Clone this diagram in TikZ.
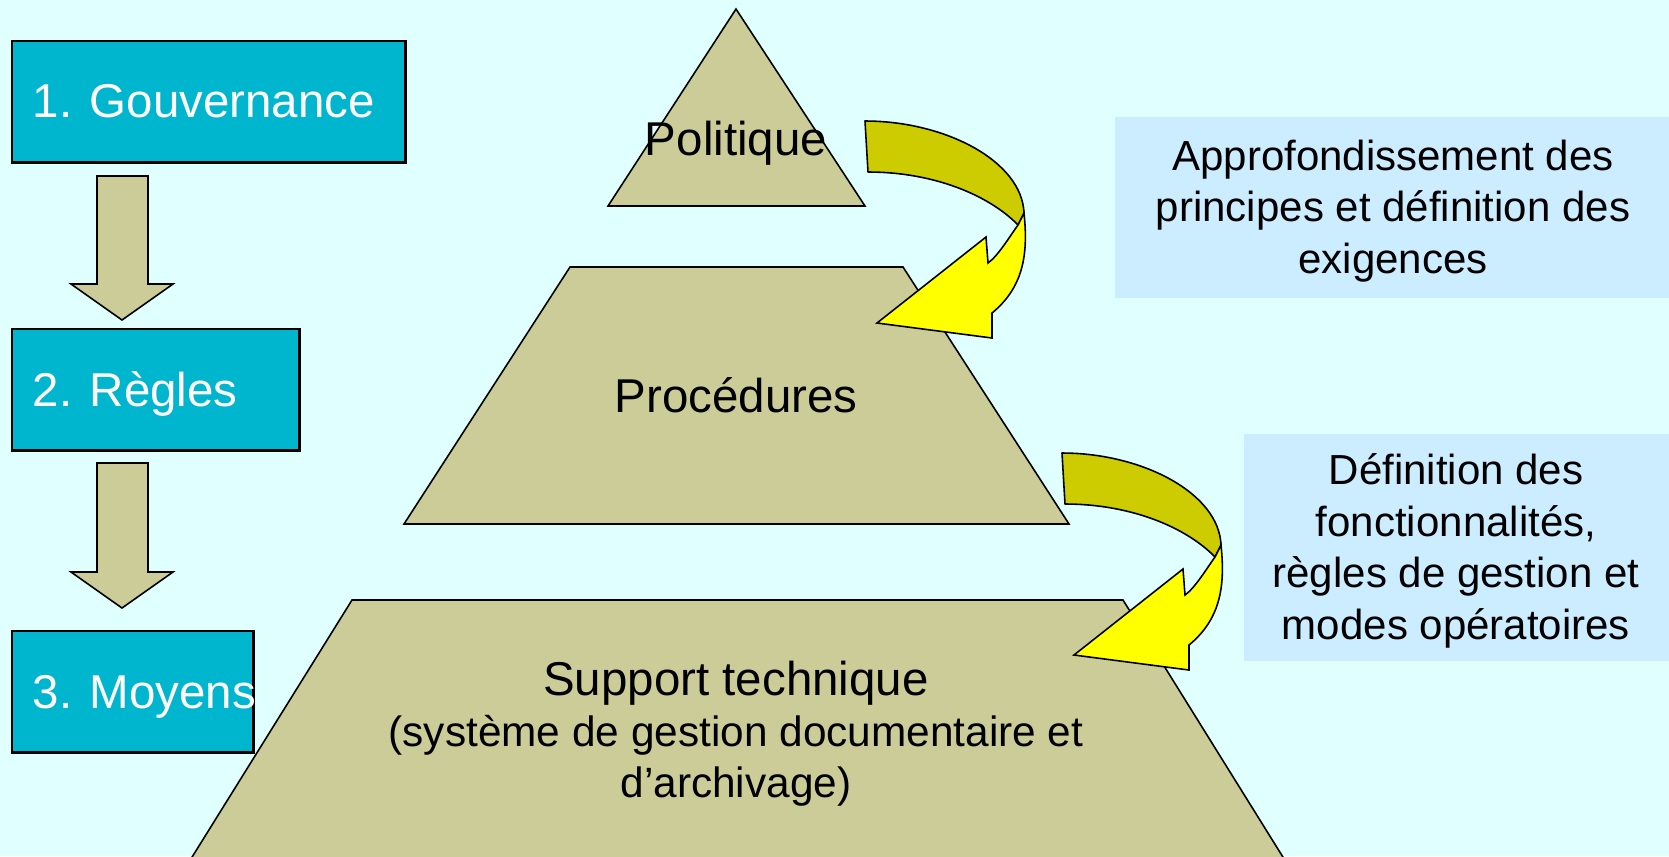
\documentclass[tikz,border=0pt]{standalone}
\usepackage{fontspec}
\setmainfont{Liberation Sans}
\definecolor{bgc}{RGB}{224,255,255}
\definecolor{boxc}{RGB}{0,181,206}
\definecolor{pyrc}{RGB}{204,204,153}
\definecolor{tailc}{RGB}{204,204,0}
\definecolor{headc}{RGB}{255,255,0}
\definecolor{notec}{RGB}{204,236,255}
\newcommand\supsmall{\fontsize{12.05}{14.5}\selectfont}
\tikzset{
  lbox/.style={draw=black, line width=0.7pt, fill=boxc, inner sep=0pt, anchor=north west},
  ltext/.style={text=white, anchor=base west, inner sep=0pt, font=\fontsize{13.5}{15}\selectfont},
  layer/.style={draw=black, line width=0.45pt, fill=pyrc, line join=miter},
  dnarrow/.style={draw=black, line width=0.45pt, fill=pyrc},
  ptext/.style={anchor=base, inner sep=0pt, align=center, font=\fontsize{13.5}{14.5}\selectfont},
  notebox/.style={fill=notec, draw=none, inner sep=0pt, anchor=north west},
  ntext/.style={anchor=base, inner sep=0pt, align=center, font=\fontsize{11.95}{14.6}\selectfont},
  tailpart/.style={draw=black, line width=0.45pt, fill=tailc, line join=round},
  headpart/.style={draw=black, line width=0.45pt, fill=headc, line join=miter},
  curvarrow/.pic={
    \path[tailpart] (0,0) .. controls (80,0) and (157,40) .. (159,92) -- (153,104)
      .. controls (125,75) and (70,51) .. (3,51) -- cycle;
    \path[headpart] (159,92) .. controls (163,130) and (160,165) .. (127,192)
      -- (127,217) -- (12,202) -- (121,116) -- (123,142)
      .. controls (133,135) and (145,115) .. (153,104) -- cycle;
  }
}
\begin{document}
\begin{tikzpicture}[x=0.01cm, y=-0.01cm]
\useasboundingbox (0,0) rectangle (1669,856);
\clip (0,0) rectangle (1669,856);
\fill[bgc] (0,0) rectangle (1669,856);

% left column
\node[lbox, minimum width=3.93cm, minimum height=1.21cm] (b1) at (11,40) {};
\node[lbox, minimum width=2.87cm, minimum height=1.21cm] (b2) at (11,328) {};
\node[lbox, minimum width=2.41cm, minimum height=1.21cm] (b3) at (11,630) {};
\node[ltext] (t1) at (32,117) {1. Gouvernance};
\node[ltext] (t2) at (32,406) {2. Règles};
\node[ltext] (t3) at (32,708) {3. Moyens};

\path[dnarrow] (97,176) -- (148,176) -- (148,284) -- (173,284) -- (122,320)
  -- (71,284) -- (97,284) -- cycle;
\path[dnarrow] (97,463) -- (148,463) -- (148,572) -- (173,572) -- (122,608)
  -- (71,572) -- (97,572) -- cycle;

% pyramid
\path[layer] (736,9) -- (865,206) -- (608,206) -- cycle;
\path[layer] (570,267) -- (903,267) -- (1069,524) -- (404,524) -- cycle;
\path[layer] (352,600) -- (1123,600) -- (1291,870) -- (184,870) -- cycle;

\node[ptext] (pol) at (736,155) {Politique};
\node[ptext] (proc) at (736,412) {Procédures};
\node[ptext] (supp) at (736,797) {Support technique\\{\supsmall (système de gestion documentaire et}\\{\supsmall d’archivage)}};

% notes
\node[notebox, minimum width=5.7cm, minimum height=1.81cm] (na) at (1114,116) {};
\node[notebox, minimum width=4.4cm, minimum height=2.27cm] (nb) at (1243,433) {};
\node[ntext] (nta) at (1393,273) {Approfondissement des\\principes et définition des\\exigences};
\node[ntext] (ntb) at (1456,639) {Définition des\\fonctionnalités,\\règles de gestion et\\modes opératoires};

% curved arrows
\pic at (865,121) {curvarrow};
\pic at (1062,453) {curvarrow};
\end{tikzpicture}
\end{document}
